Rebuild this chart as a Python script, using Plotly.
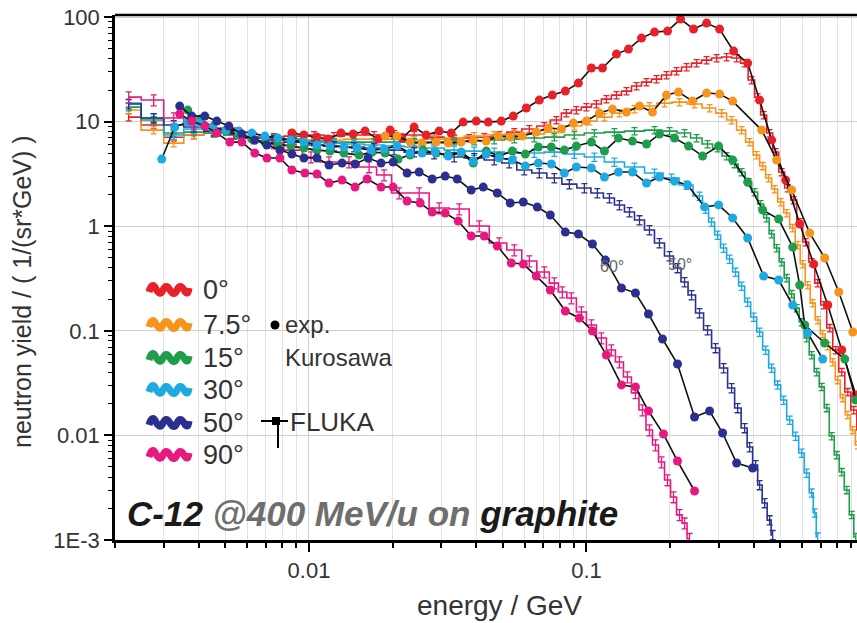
import plotly.graph_objects as go

# ---------------- data ----------------
angles = ["0°", "7.5°", "15°", "30°", "50°", "90°"]
colors = ["#e8202a", "#f7941d", "#1e9e4a", "#1fa9e1", "#2b3090", "#e7197f"]

# measured spectra (Kurosawa), energy in GeV, yield in 1/(sr*GeV)
exp_e_0 = [0.00868, 0.00959, 0.01069, 0.01171, 0.01305, 0.01442, 0.01593, 0.01775, 0.01961, 0.02166,
           0.02393, 0.02644, 0.02946, 0.03255, 0.03596, 0.04007, 0.04427, 0.04932, 0.05449, 0.06071,
           0.06763, 0.07535, 0.08394, 0.09353, 0.1042, 0.1142, 0.1283, 0.1417, 0.1579, 0.1759,
           0.1960, 0.2183, 0.2432, 0.2710, 0.3019, 0.3391, 0.3810, 0.4209, 0.4650, 0.5224,
           0.5869, 0.6593, 0.7407, 0.8320, 0.9347]
exp_y_0 = [7.8, 7.45, 7.12, 6.81, 7.78, 7.61, 8.13, 6.81, 8.31, 6.97,
           8.88, 7.45, 8.13, 7.78, 9.91, 10.13, 9.91, 10.13, 11.31, 13.5,
           16.09, 17.96, 19.6, 23.4, 32.6, 32.6, 44.3, 49.4, 63.0, 71.9,
           73.5, 95.7, 76.8, 87.6, 76.8, 47.3, 36.3, 16.09, 6.67, 2.765,
           1.05, 0.435, 0.1765, 0.0655, 0.0244]

exp_e_7 = [0.01881, 0.02078, 0.02315, 0.02558, 0.02874, 0.03175, 0.03537, 0.03908, 0.04354, 0.04811,
           0.05315, 0.05872, 0.06597, 0.07289, 0.0812, 0.08972, 0.09996, 0.1114, 0.1241, 0.1394,
           0.1553, 0.1730, 0.1943, 0.2147, 0.2412, 0.2710, 0.3019, 0.3363, 0.4280, 0.4848,
           0.5491, 0.6377, 0.7224, 0.8116, 0.9117]
exp_y_7 = [7.28, 7.28, 6.38, 6.24, 6.38, 6.24, 6.38, 6.67, 6.52, 7.28,
           7.12, 7.28, 7.95, 8.69, 8.50, 9.70, 10.13, 12.08, 13.2, 12.35,
           14.1, 12.35, 17.96, 19.19, 15.74, 18.77, 18.37, 15.74, 8.31, 4.30,
           2.219, 0.861, 0.497, 0.235, 0.0974]

exp_e_15 = [0.003658, 0.004075, 0.004503, 0.005016, 0.005588, 0.006226, 0.006937, 0.007729, 0.008609, 0.009592,
            0.01069, 0.01191, 0.01338, 0.01515, 0.01688, 0.01881, 0.02095, 0.02315, 0.02579, 0.02874,
            0.03175, 0.03537, 0.03908, 0.04354, 0.0485, 0.05404, 0.0602, 0.06708, 0.07472, 0.08325,
            0.09198, 0.1042, 0.1161, 0.1304, 0.1465, 0.1646, 0.1833, 0.2077, 0.2333, 0.2621,
            0.2994, 0.3363, 0.3810, 0.4315, 0.4929, 0.5537, 0.5869, 0.6118, 0.7224, 0.8531, 0.9347]
exp_y_15 = [12.91, 10.59, 8.88, 8.13, 7.45, 6.81, 6.38, 6.11, 5.84, 5.60,
            5.35, 5.23, 5.01, 4.79, 5.12, 5.01, 4.39, 4.79, 5.35, 5.01,
            4.79, 5.01, 4.02, 5.23, 4.69, 5.23, 4.90, 5.72, 5.72, 5.35,
            5.84, 6.38, 5.23, 6.97, 6.52, 6.11, 7.61, 6.97, 5.84, 4.69,
            5.84, 4.30, 2.646, 1.429, 1.172, 0.632, 0.274, 0.1136, 0.0765, 0.0537, 0.0218]

exp_e_30 = [0.002947, 0.003283, 0.003658, 0.004042, 0.004503, 0.005016, 0.005588, 0.006226, 0.006937, 0.007729,
            0.008609, 0.009592, 0.01069, 0.01191, 0.01338, 0.0149, 0.01674, 0.01865, 0.02078, 0.02315,
            0.02558, 0.0285, 0.03175, 0.03537, 0.03908, 0.04354, 0.0485, 0.05404, 0.0602, 0.06708,
            0.07472, 0.08325, 0.09198, 0.1042, 0.1161, 0.1304, 0.1465, 0.1646, 0.1833, 0.2077,
            0.2314, 0.2665, 0.2994, 0.3363, 0.3810, 0.4351, 0.4929, 0.5537, 0.6273, 0.7105]
exp_y_30 = [4.39, 8.88, 9.91, 9.70, 8.69, 8.31, 8.13, 7.78, 7.28, 6.97,
            6.67, 6.38, 5.98, 5.84, 5.72, 5.60, 5.35, 5.47, 5.84, 5.01,
            5.01, 5.12, 4.69, 5.12, 4.21, 4.90, 4.49, 4.30, 3.77, 4.02,
            3.94, 3.23, 3.69, 3.61, 2.96, 3.30, 3.30, 2.59, 2.96, 2.70,
            2.48, 1.53, 1.60, 1.20, 0.772, 0.334, 0.306, 0.1765, 0.0953, 0.0537]

exp_e_60 = [0.003422, 0.003781, 0.004213, 0.004655, 0.005143, 0.00573, 0.00638, 0.007054, 0.007857, 0.00868,
            0.00959, 0.01069, 0.01181, 0.01316, 0.01466, 0.01633, 0.01819, 0.0201, 0.02258, 0.02495,
            0.0278, 0.03097, 0.03422, 0.03843, 0.04247, 0.04771, 0.05315, 0.05921, 0.06652, 0.07411,
            0.08394, 0.09353, 0.1051, 0.1171, 0.1337, 0.1502, 0.1673, 0.1880, 0.2129, 0.2452,
            0.2778, 0.3095, 0.3477, 0.3971]
exp_y_60 = [14.1, 11.31, 11.31, 10.13, 9.08, 7.61, 6.67, 5.98, 5.35, 4.90,
            4.49, 4.49, 3.85, 4.02, 3.94, 4.49, 4.02, 4.11, 3.23, 3.30,
            2.83, 3.02, 2.83, 2.219, 2.37, 2.08, 1.667, 1.704, 1.526, 1.280,
            0.880, 0.843, 0.676, 0.475, 0.257, 0.2298, 0.1448, 0.0835, 0.0482, 0.0150,
            0.0171, 0.01054, 0.00545, 0.00488]

exp_e_90 = [0.003422, 0.003781, 0.004213, 0.004655, 0.005186, 0.00573, 0.00638, 0.007054, 0.007857, 0.00868,
            0.00967, 0.01069, 0.01181, 0.01316, 0.01466, 0.0162, 0.01819, 0.0201, 0.02258, 0.02516,
            0.0278, 0.03097, 0.0345, 0.03843, 0.04282, 0.04771, 0.05359, 0.05921, 0.06597, 0.07411,
            0.08394, 0.0943, 0.1051, 0.1180, 0.1337, 0.1502, 0.1673, 0.1895, 0.2129, 0.2452]
exp_y_90 = [11.83, 10.13, 9.08, 7.78, 6.38, 6.38, 5.01, 4.49, 4.49, 3.45,
            3.23, 3.16, 2.59, 2.765, 2.37, 2.83, 2.37, 2.37, 1.742, 1.667,
            1.368, 1.339, 1.121, 0.806, 0.806, 0.646, 0.445, 0.435, 0.334, 0.2455,
            0.1547, 0.1326, 0.0996, 0.0587, 0.0304, 0.0291, 0.0171, 0.01031, 0.00569, 0.00294]

# FLUKA histograms: bin-centre energy (GeV) and yield
fl_e_0 = [0.00224, 0.002757, 0.003256, 0.003845, 0.00454, 0.005361, 0.00633, 0.007476, 0.008827, 0.010425,
          0.01231, 0.01454, 0.01716, 0.02027, 0.02393, 0.02826, 0.03337, 0.0378, 0.04282, 0.0485,
          0.05494, 0.06224, 0.0705, 0.0779, 0.08465, 0.09198, 0.09996, 0.1086, 0.1180, 0.1283,
          0.1394, 0.1515, 0.1646, 0.1788, 0.1943, 0.2112, 0.2295, 0.2494, 0.2710, 0.2945,
          0.3200, 0.3477, 0.3716, 0.3938, 0.4140, 0.4352, 0.4574, 0.4808, 0.5053, 0.5312,
          0.5584, 0.5869, 0.6169, 0.6484, 0.6817, 0.7165, 0.7530, 0.7916, 0.8320, 0.8747,
          0.9193, 0.9662]
fl_y_0 = [11.06, 9.28, 7.1, 7.45, 7.78, 7.45, 7.12, 7.12, 7.28, 7.45,
          7.28, 7.45, 7.45, 7.61, 7.45, 7.12, 6.81, 6.97, 7.12, 7.45,
          7.95, 8.50, 9.08, 10.36, 12.08, 12.91, 13.79, 14.74, 16.44, 17.96,
          19.61, 21.9, 23.9, 25.5, 27.9, 30.4, 33.3, 36.3, 38.8, 40.6,
          41.5, 40.6, 36.3, 25.0, 17.18, 11.57, 7.78, 5.12, 3.30, 2.32,
          1.781, 1.097, 0.706, 0.455, 0.286, 0.1765, 0.1064, 0.0655, 0.0404, 0.0260,
          0.0175, 0.01126]

fl_e_7 = [0.00224, 0.002757, 0.003256, 0.003845, 0.00454, 0.005361, 0.00633, 0.007476, 0.008827, 0.010425,
          0.01231, 0.01454, 0.01716, 0.02027, 0.02393, 0.02826, 0.03337, 0.0394, 0.04653, 0.05494,
          0.06488, 0.07661, 0.09046, 0.1025, 0.1161, 0.1315, 0.1490, 0.1687, 0.1911, 0.2165,
          0.2452, 0.2778, 0.3069, 0.3335, 0.3624, 0.3873, 0.4106, 0.4315, 0.4536, 0.4768,
          0.5012, 0.5268, 0.5537, 0.5773, 0.6017, 0.6273, 0.6539, 0.6817, 0.7105, 0.7407,
          0.7721, 0.8049, 0.8390, 0.8747, 0.9117, 0.9505]
fl_y_7 = [12.91, 8.31, 6.24, 7.45, 7.78, 7.45, 7.12, 6.97, 6.81, 6.67,
          6.67, 6.81, 6.81, 6.81, 6.67, 6.81, 6.97, 7.28, 7.45, 7.61,
          7.61, 7.95, 9.08, 10.13, 11.06, 12.08, 13.2, 14.1, 15.06, 15.39,
          14.74, 13.50, 12.08, 10.36, 8.31, 6.38, 4.79, 3.77, 2.89, 2.27,
          1.704, 1.338, 0.962, 0.661, 0.435, 0.274, 0.184, 0.1268, 0.0933, 0.0716,
          0.0503, 0.0339, 0.0228, 0.0157, 0.01126, 0.0081]

fl_e_15 = [0.00224, 0.002757, 0.003256, 0.003845, 0.00454, 0.005361, 0.00633, 0.007476, 0.008827, 0.010425,
           0.01231, 0.01454, 0.01716, 0.02027, 0.02393, 0.02826, 0.03337, 0.0394, 0.04653, 0.05494,
           0.06488, 0.07661, 0.09046, 0.1068, 0.1261, 0.1490, 0.1759, 0.1992, 0.2257, 0.2494,
           0.2732, 0.2969, 0.3200, 0.3420, 0.3624, 0.3842, 0.4038, 0.4244, 0.4461, 0.4650,
           0.4848, 0.5053, 0.5268, 0.5491, 0.5725, 0.5967, 0.6221, 0.6484, 0.6760, 0.7046,
           0.7346, 0.7657, 0.7982, 0.8320, 0.8674, 0.9041, 0.9347]
fl_y_15 = [13.79, 10.36, 7.78, 7.95, 7.78, 7.45, 7.12, 6.97, 6.81, 6.52,
           6.38, 6.38, 6.38, 6.38, 6.38, 6.38, 6.52, 6.52, 6.67, 6.81,
           6.97, 7.12, 7.45, 7.78, 7.95, 8.13, 8.31, 8.13, 7.78, 6.97,
           6.11, 5.60, 4.69, 3.94, 3.30, 2.646, 2.124, 1.631, 1.199, 0.843,
           0.619, 0.455, 0.320, 0.225, 0.165, 0.1213, 0.0854, 0.0587, 0.0404, 0.0291,
           0.0183, 0.00986, 0.0065, 0.00447, 0.00301, 0.00174, 0.00107]

fl_e_30 = [0.00224, 0.002757, 0.003256, 0.003845, 0.00454, 0.005361, 0.00633, 0.007476, 0.008827, 0.010425,
           0.01231, 0.01454, 0.01716, 0.02027, 0.02393, 0.02826, 0.03337, 0.0394, 0.04653, 0.05494,
           0.06488, 0.07661, 0.09046, 0.1068, 0.1261, 0.1490, 0.1759, 0.2026, 0.2295, 0.2556,
           0.2687, 0.2825, 0.2969, 0.3121, 0.3280, 0.3448, 0.3624, 0.3810, 0.4005, 0.4209,
           0.4424, 0.4650, 0.4889, 0.5138, 0.5401, 0.5677, 0.5967, 0.6221, 0.6484, 0.6648, 0.6817]
fl_y_30 = [15.06, 10.83, 7.45, 8.50, 8.13, 7.61, 7.12, 6.81, 6.67, 6.38,
           6.24, 6.11, 5.98, 5.84, 5.72, 5.60, 5.35, 5.23, 5.12, 5.01,
           5.01, 5.12, 4.90, 4.59, 4.11, 3.69, 3.23, 2.89, 2.48, 1.944,
           1.461, 1.097, 0.824, 0.619, 0.486, 0.365, 0.268, 0.1885, 0.1355, 0.0974,
           0.0655, 0.0441, 0.0304, 0.0218, 0.01404, 0.00986, 0.00679, 0.00437, 0.00282, 0.00182, 0.00107]

fl_e_50 = [0.00224, 0.002757, 0.003256, 0.003845, 0.00454, 0.005361, 0.00633, 0.007476, 0.008827, 0.010425,
           0.01231, 0.01454, 0.01716, 0.02027, 0.02393, 0.02826, 0.03337, 0.0394, 0.04653, 0.0527,
           0.0597, 0.06763, 0.07661, 0.08678, 0.0983, 0.1095, 0.1210, 0.1315, 0.1429, 0.1553,
           0.1687, 0.1833, 0.1992, 0.2129, 0.2257, 0.2392, 0.2556, 0.2732, 0.2920, 0.3121,
           0.3335, 0.3506, 0.3716, 0.3873, 0.4072, 0.4209, 0.4388, 0.4574, 0.4689]
fl_y_50 = [14.74, 10.83, 9.28, 8.88, 8.13, 7.61, 6.97, 6.67, 6.38, 5.98,
           5.84, 5.72, 5.60, 5.35, 5.12, 4.90, 4.59, 4.49, 4.30, 4.02,
           3.45, 3.23, 2.89, 2.53, 2.32, 2.08, 1.862, 1.596, 1.368, 1.146,
           0.920, 0.691, 0.519, 0.399, 0.293, 0.220, 0.148, 0.1018, 0.0686, 0.0441,
           0.0284, 0.0183, 0.01178, 0.00775, 0.00521, 0.00336, 0.00226, 0.00155, 0.00112]

fl_e_90 = [0.00224, 0.002757, 0.003256, 0.003845, 0.00454, 0.005361, 0.00633, 0.007476, 0.008827, 0.01017,
           0.01181, 0.01394, 0.01647, 0.01865, 0.02113, 0.02495, 0.02946, 0.03479, 0.04108, 0.0485,
           0.05494, 0.06224, 0.0705, 0.07661, 0.08188, 0.08823, 0.09588, 0.1042, 0.1132, 0.1230,
           0.1315, 0.1405, 0.1502, 0.1592, 0.1687, 0.1774, 0.1864, 0.1960, 0.2060, 0.2165,
           0.2257, 0.2352]
fl_y_90 = [17.18, 16.09, 10.83, 9.49, 8.69, 7.78, 6.97, 6.24, 5.35, 4.59,
           4.11, 4.11, 3.69, 3.09, 2.08, 2.08, 1.494, 1.461, 1.004, 0.691,
           0.592, 0.465, 0.365, 0.286, 0.235, 0.206, 0.1513, 0.1136, 0.0854, 0.0655,
           0.0503, 0.0362, 0.0255, 0.0175, 0.01126, 0.0081, 0.00557, 0.00375, 0.00258, 0.00174,
           0.00145, 0.00103]

fluka_err_pct = [8, 8, 8, 9, 10, 12]

exp_sets = [(exp_e_0, exp_y_0), (exp_e_7, exp_y_7), (exp_e_15, exp_y_15),
            (exp_e_30, exp_y_30), (exp_e_60, exp_y_60), (exp_e_90, exp_y_90)]
fluka_sets = [(fl_e_0, fl_y_0), (fl_e_7, fl_y_7), (fl_e_15, fl_y_15),
              (fl_e_30, fl_y_30), (fl_e_50, fl_y_50), (fl_e_90, fl_y_90)]

x_tick_vals = [0.01, 0.1]
x_tick_text = ["0.01", "0.1"]
y_tick_vals = [0.001, 0.01, 0.1, 1, 10, 100]
y_tick_text = ["1E-3", "0.01", "0.1", "1", "10", "100"]

# ---------------- layout geometry ----------------
W, H = 857, 623
ML, MR, MT, MB = 115, 0, 15, 83
PW, PH = W - ML - MR, H - MT - MB
FONT = "Liberation Sans, Arial, sans-serif"
TXT = "#333333"


def px(xp):
    return (xp - ML) / PW


def py(yp):
    return (MT + PH - yp) / PH


def pt(a, b):
    return f"{px(a):.5f},{py(b):.5f}"


fig = go.Figure()

# FLUKA step histograms with error bars (drawn underneath)
for (e, y), col, pct in zip(fluka_sets, colors, fluka_err_pct):
    fig.add_trace(go.Scatter(
        x=e, y=y, mode="lines", line=dict(color=col, width=1.6, shape="hvh"),
        error_y=dict(type="percent", value=pct, color=col, thickness=1.3, width=3),
        hoverinfo="skip", showlegend=False))

# measured points joined by a black line
for (e, y), col in zip(exp_sets, colors):
    fig.add_trace(go.Scatter(
        x=e, y=y, mode="lines+markers",
        line=dict(color="#111111", width=1.6),
        marker=dict(color=col, size=9, line=dict(width=0)),
        showlegend=False))

minor_x = [m * 10 ** k for k in (-3, -2, -1) for m in range(2, 10)]
minor_y = [m * 10 ** k for k in (-3, -2, -1, 0, 1) for m in range(2, 10)]

fig.update_xaxes(
    type="log", range=[-2.699, -0.025],
    tickmode="array", tickvals=x_tick_vals, ticktext=x_tick_text,
    ticks="outside", ticklen=9, tickwidth=2, tickcolor="black",
    showline=True, linecolor="black", linewidth=2.5,
    showgrid=True, gridcolor="#cfcfcf", gridwidth=1.2, zeroline=False,
    tickfont=dict(family=FONT, size=22, color=TXT),
    minor=dict(tickmode="array", tickvals=minor_x, ticks="outside", ticklen=5,
               tickwidth=1.6, tickcolor="black", showgrid=True,
               gridcolor="#e2e2e2", gridwidth=1.2),
)
fig.update_yaxes(
    type="log", range=[-3, 2.02],
    tickmode="array", tickvals=y_tick_vals, ticktext=y_tick_text,
    ticks="outside", ticklen=8, tickwidth=2, tickcolor="black",
    showline=True, linecolor="black", linewidth=2.5,
    showgrid=True, gridcolor="#cfcfcf", gridwidth=1.2, zeroline=False,
    tickfont=dict(family=FONT, size=22, color=TXT),
    minor=dict(tickmode="array", tickvals=minor_y, ticks="outside", ticklen=4,
               tickwidth=1.4, tickcolor="black", showgrid=False),
)

shapes = [
    # top frame line
    dict(type="line", xref="paper", yref="paper", x0=0, x1=1, y0=1, y1=1,
         line=dict(color="black", width=2.5)),
]
annotations = []

# legend: wavy colour swatches and angle labels
legend_rows = [290, 325, 358, 390, 423, 455]
for row, col, lab in zip(legend_rows, colors, angles):
    path = (f"M {pt(149, row + 2)} Q {pt(152, row - 9)} {pt(156, row - 1)} "
            f"T {pt(163, row)} T {pt(170, row)} T {pt(177, row)} T {pt(184, row)} "
            f"T {pt(189, row - 2)}")
    shapes.append(dict(type="path", xref="paper", yref="paper", path=path,
                       line=dict(color=col, width=7)))
    annotations.append(dict(xref="paper", yref="paper", x=px(201), y=py(row), text=lab,
                            showarrow=False, xanchor="left", yanchor="middle",
                            font=dict(family=FONT, size=27, color=TXT)))

# legend: experiment and simulation keys
shapes.append(dict(type="circle", xref="paper", yref="paper",
                   x0=px(270.5), x1=px(279.5), y0=py(320.5), y1=py(329.5),
                   fillcolor="black", line=dict(width=0)))
annotations.append(dict(xref="paper", yref="paper", x=px(283), y=py(324), text="exp.",
                        showarrow=False, xanchor="left", yanchor="middle",
                        font=dict(family=FONT, size=24, color=TXT)))
annotations.append(dict(xref="paper", yref="paper", x=px(283), y=py(357), text="Kurosawa",
                        showarrow=False, xanchor="left", yanchor="middle",
                        font=dict(family=FONT, size=24, color=TXT)))
shapes.append(dict(type="line", xref="paper", yref="paper", x0=px(261), x1=px(288),
                   y0=py(421), y1=py(421), line=dict(color="black", width=2)))
shapes.append(dict(type="rect", xref="paper", yref="paper", x0=px(272), x1=px(280),
                   y0=py(417), y1=py(425), fillcolor="black", line=dict(width=0)))
shapes.append(dict(type="line", xref="paper", yref="paper", x0=px(278), x1=px(278),
                   y0=py(421), y1=py(448), line=dict(color="black", width=2)))
annotations.append(dict(xref="paper", yref="paper", x=px(288), y=py(422), text="FLUKA",
                        showarrow=False, xanchor="left", yanchor="middle",
                        font=dict(family=FONT, size=26, color=TXT)))

# curve labels
annotations.append(dict(xref="paper", yref="paper", x=px(626), y=py(266), text="60°",
                        showarrow=False, font=dict(family=FONT, size=16, color="#666666")))
annotations.append(dict(xref="paper", yref="paper", x=px(694), y=py(264), text="50°",
                        showarrow=False, font=dict(family=FONT, size=16, color="#666666")))

# reaction caption
annotations.append(dict(
    xref="paper", yref="paper", x=px(125), y=py(513), xanchor="left", yanchor="middle",
    text="<b><i>C-12 <span style='color:#6e6e6e'>@400 MeV/u on</span> graphite</i></b>",
    showarrow=False, font=dict(family=FONT, size=35, color="#1a1a1a")))

# axis titles
annotations.append(dict(xref="paper", yref="paper", x=px(499), y=py(605),
                        text="energy / GeV", showarrow=False, xanchor="center", yanchor="middle",
                        font=dict(family=FONT, size=28, color=TXT)))
annotations.append(dict(xref="paper", yref="paper", x=px(22), y=py(292),
                        text="neutron yield / ( 1/(sr*GeV) )", textangle=-90, showarrow=False,
                        xanchor="center", yanchor="middle",
                        font=dict(family=FONT, size=25, color=TXT)))

fig.update_layout(
    width=W, height=H,
    margin=dict(l=ML, r=MR, t=MT, b=MB, pad=0),
    paper_bgcolor="white", plot_bgcolor="white",
    showlegend=False,
    shapes=shapes, annotations=annotations,
)

fig.write_html("out.html")
